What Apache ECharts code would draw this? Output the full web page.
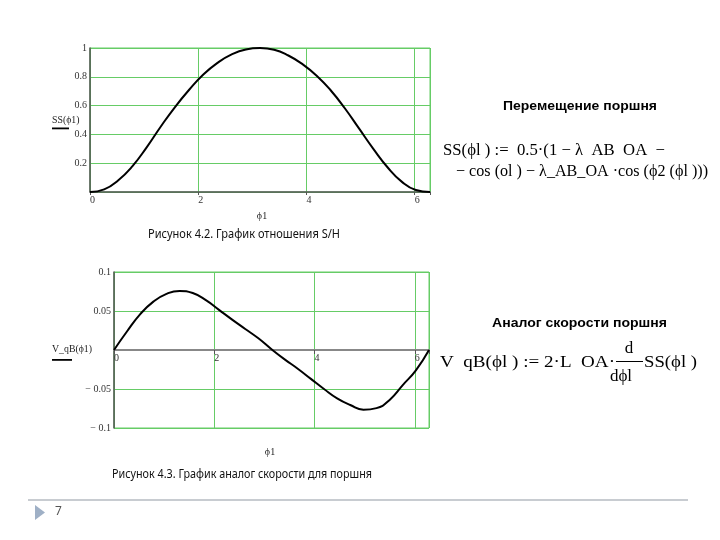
<!DOCTYPE html>
<html>
<head>
<meta charset="utf-8">
<script src="https://cdn.jsdelivr.net/npm/echarts@6/dist/echarts.min.js"></script>
<style>
html,body{margin:0;padding:0;background:#fff;}
#c{width:720px;height:540px;}
</style>
</head>
<body>
<div id="c"></div>
<script>
const phi = [0, 0.2618, 0.5236, 0.7854, 1.0472, 1.3090, 1.5708, 1.8326, 2.0944, 2.3562, 2.6180, 2.8798, 3.1416,
             3.4034, 3.6652, 3.9270, 4.1888, 4.4506, 4.7124, 4.9742, 5.2360, 5.4978, 5.7596, 6.0214, 6.2832];
const ssVals = [0, 0.018, 0.082, 0.18, 0.31, 0.455, 0.59, 0.71, 0.816, 0.897, 0.956, 0.99, 1.0,
                0.988, 0.948, 0.888, 0.808, 0.705, 0.58, 0.44, 0.30, 0.172, 0.072, 0.014, 0];
const vVals = [0, 0.024, 0.046, 0.062, 0.072, 0.0758, 0.073, 0.064, 0.0515, 0.039, 0.027, 0.015, 0.001,
               -0.012, -0.024, -0.037, -0.05, -0.062, -0.0705, -0.0765, -0.0745, -0.064, -0.045, -0.026, 0];

const xTicksShown = [0, 2, 4, 6];
const ssTickLabels = ['0.2', '0.4', '0.6', '0.8', '1'];
const vTickLabels = ['\u2212 0.1', '\u2212 0.05', '0.05', '0.1'];

const captionSS = 'Рисунок 4.2. График отношения S/H';
const captionV = 'Рисунок 4.3. График аналог скорости для поршня';
const titleSS = 'Перемещение поршня';
const titleV = 'Аналог скорости поршня';
const formulaSS1 = 'SS(ϕl ) :=  0.5·(1 − λ  AB  OA  −';
const formulaSS2 = '− cos (ol ) − λ_AB_OA ·cos (ϕ2 (ϕl )))';
const formulaV1 = 'V  qB(ϕl ) := 2·L  OA·';
const formulaVnum = 'd';
const formulaVden = 'dϕl';
const formulaV2 = 'SS(ϕl )';
const pageNumber = '7';

// ---- rendering ----
const TWO_PI = 6.283185307179586;
const GREEN = '#66cc66';
const SERIF = '"Liberation Serif", "DejaVu Serif", serif';
const SANS = '"Liberation Sans", Arial, sans-serif';
const CAP = '"Noto Sans", "Open Sans", sans-serif';

const ctx = document.createElement('canvas').getContext('2d');
function measure(text, font) { ctx.font = font; return ctx.measureText(text).width; }
function txt(text, x, y, size, family, weight, targetW, color, align) {
  const font = (weight || 'normal') + ' ' + size + 'px ' + family;
  let sx = 1;
  if (targetW) sx = targetW / measure(text, font);
  return {
    type: 'text', x: x, y: y, scaleX: sx, z: 10,
    style: {
      text: text, font: font, fill: color || '#000',
      textAlign: align || 'left', textVerticalAlign: 'middle'
    }
  };
}

function fmtNum(v) { return String(Math.round(Math.abs(v) * 100) / 100); }

const chart = echarts.init(document.getElementById('c'), null, { renderer: 'canvas' });

const axisLbl = { fontFamily: SERIF, fontSize: 10, color: '#333' };
const grid2H = 156;

const option = {
  animation: false,
  backgroundColor: '#fff',
  grid: [
    { left: 90, top: 48, width: 340, height: 144, show: true, borderColor: GREEN, borderWidth: 1, backgroundColor: 'transparent' },
    { left: 114, top: 272, width: 315, height: grid2H, show: true, borderColor: GREEN, borderWidth: 1, backgroundColor: 'transparent' }
  ],
  xAxis: [
    {
      type: 'value', gridIndex: 0, min: 0, max: TWO_PI, interval: 2,
      axisLine: { show: true, lineStyle: { color: '#555', width: 1.5 } },
      axisTick: { show: true, length: 3, lineStyle: { color: '#555' } },
      axisLabel: Object.assign({}, axisLbl, { margin: 3, align: 'left',
        formatter: v => (xTicksShown.indexOf(v) >= 0 ? String(v) : '') }),
      splitLine: { show: true, lineStyle: { color: GREEN, width: 1 } }
    },
    {
      type: 'value', gridIndex: 1, min: 0, max: TWO_PI, interval: 2,
      offset: -grid2H / 2,
      axisLine: { show: true, onZero: false, lineStyle: { color: '#888', width: 2 } },
      axisTick: { show: true, length: 4, lineStyle: { color: '#555' } },
      axisLabel: Object.assign({}, axisLbl, { margin: 3, align: 'left',
        formatter: v => (xTicksShown.indexOf(v) >= 0 ? String(v) : '') }),
      splitLine: { show: true, lineStyle: { color: GREEN, width: 1 } }
    }
  ],
  yAxis: [
    {
      type: 'value', gridIndex: 0, min: 0, max: 1, interval: 0.2,
      axisLine: { show: true, lineStyle: { color: '#555', width: 1.5 } },
      axisTick: { show: false },
      axisLabel: Object.assign({}, axisLbl, { margin: 3,
        formatter: v => { const s = fmtNum(v); return ssTickLabels.indexOf(s) >= 0 ? s : ''; } }),
      splitLine: { show: true, lineStyle: { color: GREEN, width: 1 } }
    },
    {
      type: 'value', gridIndex: 1, min: -0.1, max: 0.1, interval: 0.05,
      axisLine: { show: true, onZero: false, lineStyle: { color: '#555', width: 1.5 } },
      axisTick: { show: false },
      axisLabel: Object.assign({}, axisLbl, { margin: 3,
        formatter: v => {
          if (Math.abs(v) < 1e-9) return '';
          const s = (v < 0 ? '\u2212 ' : '') + fmtNum(v);
          return vTickLabels.indexOf(s) >= 0 ? s : '';
        } }),
      splitLine: { show: true, lineStyle: { color: GREEN, width: 1 } }
    }
  ],
  series: [
    {
      type: 'line', xAxisIndex: 0, yAxisIndex: 0, smooth: 0.5, showSymbol: false,
      lineStyle: { color: '#000', width: 2 }, z: 5,
      data: phi.map((p, i) => [p, ssVals[i]])
    },
    {
      type: 'line', xAxisIndex: 1, yAxisIndex: 1, smooth: 0.5, showSymbol: false,
      lineStyle: { color: '#000', width: 2 }, z: 5,
      data: phi.map((p, i) => [p, vVals[i]])
    }
  ],
  graphic: [
    // axis names
    txt('SS(ϕ1)', 52, 120, 10, SERIF, 'normal', 27.5, '#222'),
    { type: 'rect', shape: { x: 52, y: 127.5, width: 17, height: 1.8 }, style: { fill: '#000' } },
    txt('ϕ1', 262, 216, 10, SERIF, 'normal', null, '#222', 'center'),
    txt('V_qB(ϕ1)', 52, 349, 10, SERIF, 'normal', 40, '#222'),
    { type: 'rect', shape: { x: 52, y: 359, width: 20, height: 1.8 }, style: { fill: '#000' } },
    txt('ϕ1', 270, 452, 10, SERIF, 'normal', null, '#222', 'center'),
    // captions
    txt(captionSS, 148, 235, 12, CAP, 'normal', 192, '#111'),
    txt(captionV, 112, 475, 12, CAP, 'normal', 260, '#111'),
    // right-hand text
    txt(titleSS, 503, 106, 13, SANS, 'bold', 154, '#000'),
    txt(formulaSS1, 443, 151, 17, SERIF, 'normal', 222, '#000'),
    txt(formulaSS2, 456, 172, 17, SERIF, 'normal', 252, '#000'),
    txt(titleV, 492, 323, 13, SANS, 'bold', 175, '#000'),
    txt(formulaV1, 440, 363, 17, SERIF, 'normal', 175, '#000'),
    txt(formulaVnum, 629, 349, 17, SERIF, 'normal', null, '#000', 'center'),
    { type: 'rect', shape: { x: 616, y: 361, width: 27, height: 1 }, style: { fill: '#000' } },
    txt(formulaVden, 621, 377, 17, SERIF, 'normal', null, '#000', 'center'),
    txt(formulaV2, 644, 363, 17, SERIF, 'normal', 53, '#000'),
    // footer
    { type: 'rect', shape: { x: 28, y: 499, width: 660, height: 2 }, style: { fill: '#c8ccd1' } },
    { type: 'polygon', shape: { points: [[35, 505], [45, 512.5], [35, 520]] }, style: { fill: '#9fb0c6' } },
    txt(pageNumber, 55, 512, 12, CAP, 'normal', null, '#555')
  ]
};
chart.setOption(option);
</script>
</body>
</html>
